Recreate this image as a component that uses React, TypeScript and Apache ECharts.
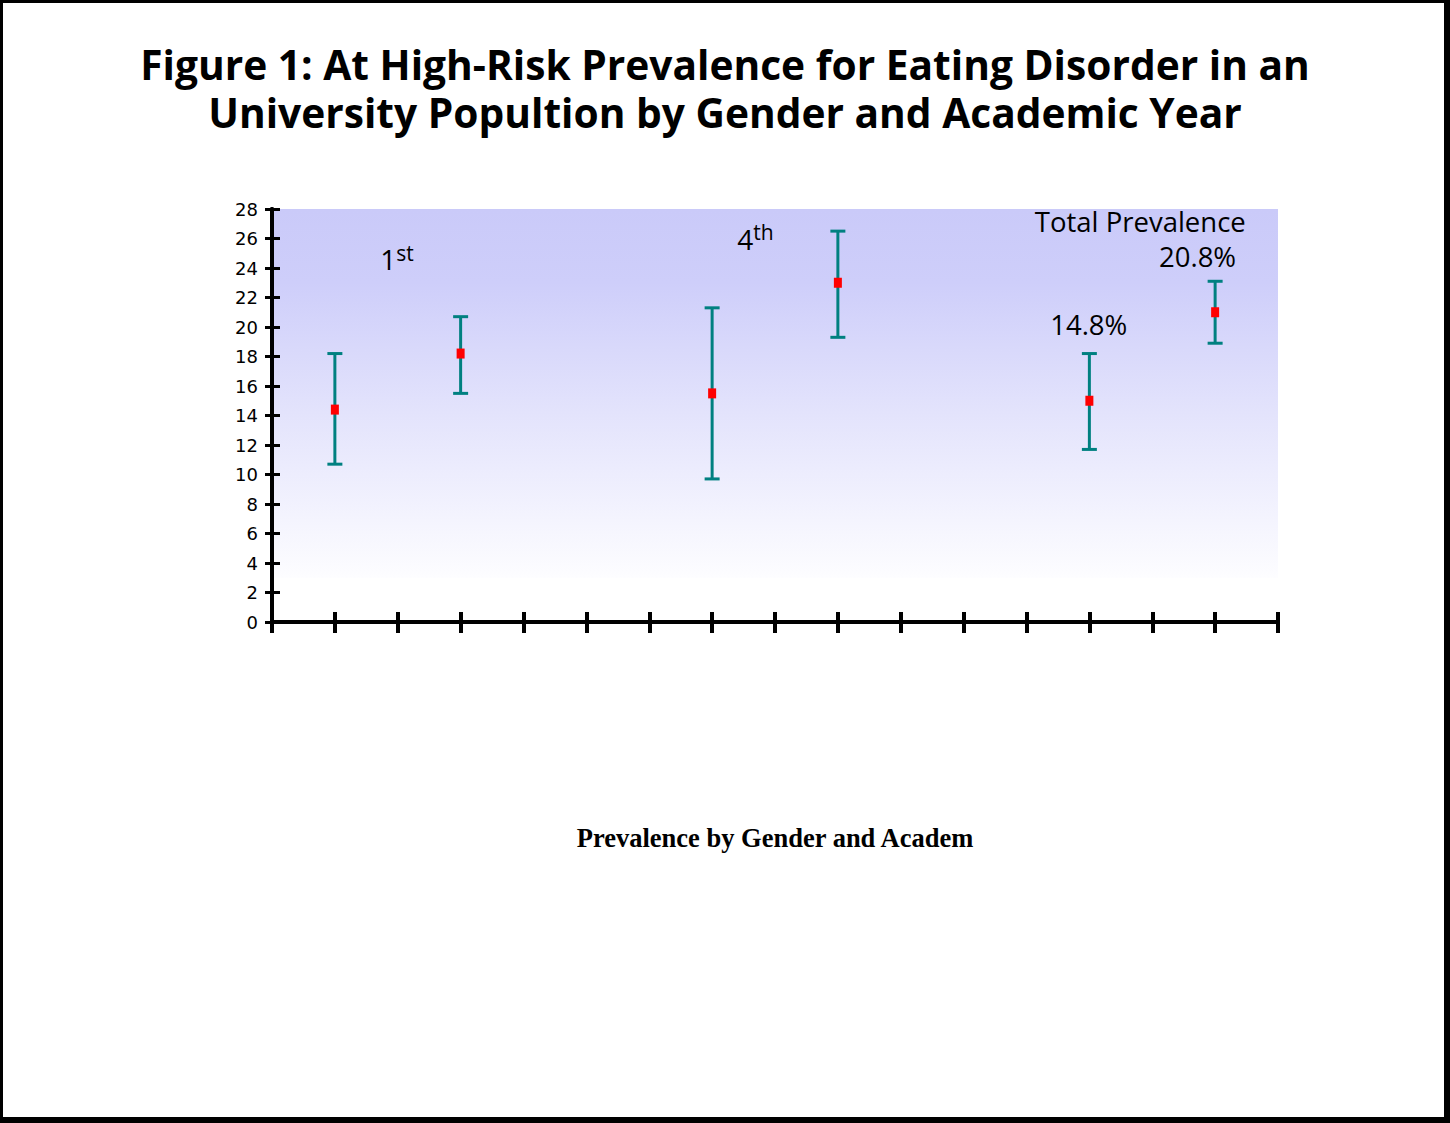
import { useEffect, useRef } from "react";
import * as echarts from "echarts";

// slot of each point on the 0..16 x scale
const slots = [1, 3, 7, 9, 13, 15];
const means = [14.4, 18.2, 15.5, 23.0, 15.0, 21.0];
const lower = [10.7, 15.5, 9.7, 19.3, 11.7, 18.9];
const upper = [18.2, 20.7, 21.3, 26.5, 18.2, 23.1];

const yTicks = [0, 28, 2];

const titleLines = [
  "Figure 1: At High-Risk Prevalence for Eating Disorder in an",
  "University Popultion by Gender and Academic Year"
];

const notes = [
  { text: "{a|1}{b|st}", x: 1.72, y: 24.6, align: "left" },
  { text: "{a|4}{b|th}", x: 7.4, y: 26.0, align: "left" },
  { text: "Total Prevalence", x: 13.81, y: 27.16, align: "center" },
  { text: "20.8%", x: 14.72, y: 24.78, align: "center" },
  { text: "14.8%", x: 12.99, y: 20.16, align: "center" }
];

const comic = "'Comic Sans MS', 'Open Sans', sans-serif";

export default function App() {
  const chartRef = useRef<HTMLDivElement>(null);

  useEffect(() => {
    document.body.style.margin = "0";
    if (!chartRef.current) return;
    const chart = echarts.init(chartRef.current, null, { renderer: "svg" });

    const axisLine = { show: true, lineStyle: { color: "#000", width: 4 } };
    const xBase = {
      type: "value",
      min: 0,
      max: 16,
      interval: 1,
      z: 10,
      axisLine,
      axisLabel: { show: false },
      splitLine: { show: false }
    };
    const yBase = {
      type: "value",
      min: yTicks[0],
      max: yTicks[1],
      interval: yTicks[2],
      z: 10,
      axisLine,
      splitLine: { show: false }
    };

    const option: any = {
      animation: false,
      backgroundColor: "transparent",
      title: titleLines.map((t, i) => ({
        text: t,
        left: "center",
        top: 43.5 + i * 48,
        padding: 0,
        textStyle: { fontFamily: comic, fontWeight: "bold", fontSize: 40.7, lineHeight: 41, color: "#000" }
      })),
      grid: { left: 272, right: 172, top: 209, bottom: 501 },
      xAxis: [
        {
          ...xBase,
          name: "Prevalence by Gender and Academ",
          nameLocation: "middle",
          nameGap: 202,
          nameTextStyle: { fontFamily: "'Times New Roman', 'Liberation Serif', serif", fontWeight: "bold", fontSize: 26.5, color: "#000" },
          axisTick: { show: true, inside: false, length: 11, lineStyle: { color: "#000", width: 4 } }
        },
        {
          ...xBase,
          position: "bottom",
          axisTick: { show: true, inside: true, length: 10, lineStyle: { color: "#000", width: 4 } }
        }
      ],
      yAxis: [
        {
          ...yBase,
          axisTick: { show: true, inside: false, length: 7, lineStyle: { color: "#000", width: 3 } },
          axisLabel: { margin: 14, fontFamily: "'DejaVu Sans', Verdana, sans-serif", fontSize: 18, color: "#000" }
        },
        {
          ...yBase,
          position: "left",
          axisTick: { show: true, inside: true, length: 8, lineStyle: { color: "#000", width: 3 } },
          axisLabel: { show: false }
        }
      ],
      graphic: [
        { type: "rect", z: -20, silent: true, shape: { x: 0, y: 0, width: 1450, height: 1123 }, style: { fill: "#000" } },
        { type: "rect", z: -19, silent: true, shape: { x: 3, y: 3, width: 1441, height: 1114 }, style: { fill: "#fff" } }
      ],
      series: [
        {
          type: "custom",
          z: 3,
          data: slots.map((s, i) => [s, lower[i], upper[i]]),
          renderItem: (_params: any, api: any) => {
            const x = api.value(0);
            const lo = api.coord([x, api.value(1)]);
            const hi = api.coord([x, api.value(2)]);
            const style = { stroke: "#008080", lineWidth: 3 };
            return {
              type: "group",
              children: [
                { type: "line", shape: { x1: hi[0], y1: hi[1], x2: lo[0], y2: lo[1] }, style },
                { type: "line", shape: { x1: hi[0] - 7.5, y1: hi[1], x2: hi[0] + 7.5, y2: hi[1] }, style },
                { type: "line", shape: { x1: lo[0] - 7.5, y1: lo[1], x2: lo[0] + 7.5, y2: lo[1] }, style }
              ]
            };
          },
          markArea: {
            silent: true,
            itemStyle: {
              color: new echarts.graphic.LinearGradient(0, 0, 0, 1, [
                { offset: 0, color: "#cacaf9" },
                { offset: 0.2, color: "#cecefa" },
                { offset: 0.55, color: "#e3e3fc" },
                { offset: 1, color: "#fdfdff" }
              ])
            },
            data: [[{ coord: [0, 28] }, { coord: [16, 3] }]]
          }
        },
        {
          type: "scatter",
          z: 4,
          symbol: "rect",
          symbolSize: [8, 10],
          itemStyle: { color: "#ff0000", opacity: 1 },
          data: slots.map((s, i) => [s, means[i]])
        }
      ]
    };

    chart.setOption(option);

    const texts = notes.map(n => {
      const [px, py] = chart.convertToPixel({ xAxisIndex: 0, yAxisIndex: 0 }, [n.x, n.y]);
      return {
        type: "text",
        z: 10,
        x: px,
        y: py,
        style: {
          text: n.text,
          fontFamily: comic,
          fontSize: 27.5,
          fill: "#000",
          align: n.align,
          verticalAlign: "middle",
          rich: {
            a: { fontFamily: comic, fontSize: 28, lineHeight: 34 },
            b: { fontFamily: comic, fontSize: 21, lineHeight: 22, verticalAlign: "top" }
          }
        }
      };
    });
    chart.setOption({ graphic: [...option.graphic, ...texts] });

    return () => {
      chart.dispose();
    };
  }, []);

  return <div ref={chartRef} style={{ width: "1450px", height: "1123px" }} />;
}
